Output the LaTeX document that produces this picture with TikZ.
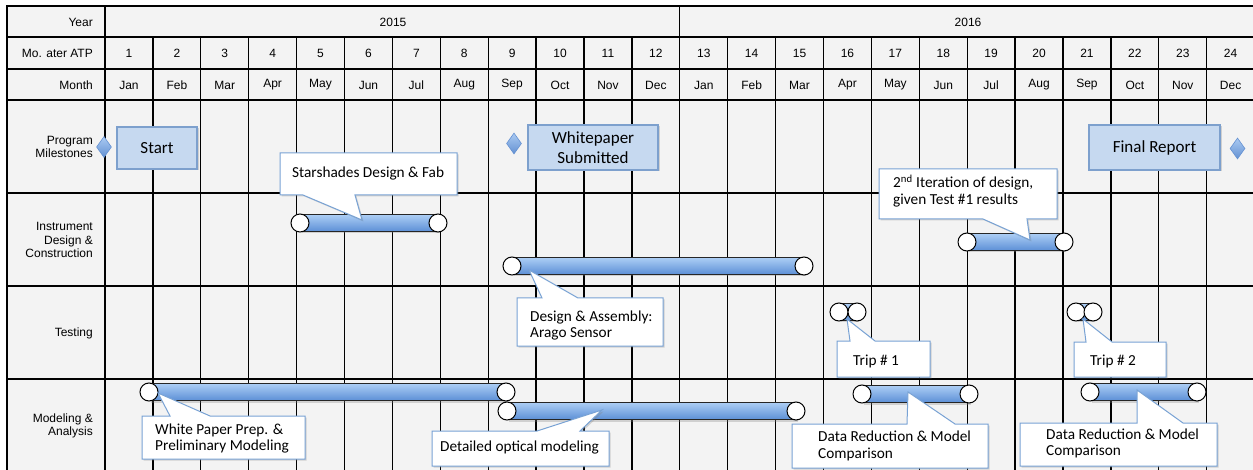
\documentclass[tikz,border=0pt]{standalone}
\usepackage{fontspec}
\setmainfont{Liberation Sans}
\newfontfamily\callfont{Carlito}
\usetikzlibrary{shadows,shapes.geometric}
\definecolor{cellbg}{RGB}{243,243,243}
\definecolor{msfill}{RGB}{198,217,240}
\definecolor{msedge}{RGB}{125,160,205}
\definecolor{coedge}{RGB}{120,162,212}
\definecolor{bartop}{RGB}{172,206,245}
\definecolor{barbot}{RGB}{92,143,214}
\definecolor{diatop}{RGB}{170,202,242}
\definecolor{diabot}{RGB}{100,145,210}

\newcommand{\ganttbar}[4]{%
  \coordinate (#1s) at (#2,#4);
  \coordinate (#1e) at (#3,#4);
  \path[barbody] ([yshift=8.5pt]#1s) rectangle ([yshift=-8.5pt]#1e);
  \node[endpt] (#1L) at (#1s) {};
  \node[endpt] (#1R) at (#1e) {};}
% callout with pointer on top edge: x1,y1(top),x2,y2(bottom),bx1,bx2,tipx,tipy
\newcommand{\coup}[8]{\path[cshape] (#1,#2) -- (#5,#2) -- (#7,#8) -- (#6,#2) -- (#3,#2) -- (#3,#4) -- (#1,#4) -- cycle;}
% callout with pointer on bottom edge
\newcommand{\codown}[8]{\path[cshape] (#1,#2) -- (#3,#2) -- (#3,#4) -- (#6,#4) -- (#7,#8) -- (#5,#4) -- (#1,#4) -- cycle;}

\begin{document}
\begin{tikzpicture}[x=1pt,y=-1pt,
  gridline/.style={line width=1.3pt, black},
  outline/.style={line width=1.7pt, black},
  hdr/.style={font=\fontsize{12}{14}\selectfont, inner sep=0pt},
  rowlab/.style={font=\fontsize{12}{13.5}\selectfont, inner sep=0pt, align=right, anchor=east},
  ctext/.style={font=\callfont\fontsize{15.3}{16.5}\selectfont, inner sep=0pt, align=left, anchor=west},
  cshape/.style={draw=coedge, line width=1pt, fill=white, drop shadow={shadow xshift=1.5pt, shadow yshift=-1.5pt, opacity=0.3}},
  msbox/.style={draw=msedge, line width=1.2pt, fill=msfill, font=\callfont\fontsize{17}{20.5}\selectfont, align=center, inner sep=0pt, drop shadow={shadow xshift=1.5pt, shadow yshift=-1.5pt, opacity=0.3}},
  msdia/.style={diamond, draw=diabot, line width=0.6pt, top color=diatop, bottom color=diabot, minimum width=15pt, minimum height=21pt, inner sep=0pt},
  endpt/.style={circle, draw=black, line width=1pt, fill=white, minimum size=18pt, inner sep=0pt},
  barbody/.style={draw=black!85, line width=0.9pt, top color=bartop, bottom color=barbot, drop shadow={shadow xshift=1.5pt, shadow yshift=-2pt, opacity=0.3}}
]
\useasboundingbox (0,0) rectangle (1253,470);
% background and grid
\fill[cellbg] (7,6) rectangle (1253,472);
\foreach \y in {37,69,100,193,286,379} \draw[gridline] (7,\y) -- (1253,\y);
\foreach \k in {1,...,11,13,14,...,23} \draw[gridline] ({105+47.9*\k},37) -- ({105+47.9*\k},472);
\draw[gridline] (105,6) -- (105,472);
\draw[gridline] ({105+47.9*12},6) -- ({105+47.9*12},472);
\draw[outline] (1253,6) -- (7,6) -- (7,472);

% header
\node[hdr, anchor=east] (hyear) at (93,22) {Year};
\node[hdr, anchor=east] (hmo) at (93,53) {Mo. ater ATP};
\node[hdr, anchor=east] (hmonth) at (93,85) {Month};
\node[hdr] (y2015) at (393,22) {2015};
\node[hdr] (y2016) at (968,22) {2016};
\foreach \m [count=\i] in {Jan,Feb,Mar,Apr,May,Jun,Jul,Aug,Sep,Oct,Nov,Dec,Jan,Feb,Mar,Apr,May,Jun,Jul,Aug,Sep,Oct,Nov,Dec}{
  \node[hdr] (num\i) at ({105+47.9*(\i-0.5)},53) {\i};
  \node[hdr] (mon\i) at ({105+47.9*(\i-0.5)},85) {\m};
}
% row labels
\node[rowlab] (rl1) at (93,147) {Program\\Milestones};
\node[rowlab] (rl2) at (93,240) {Instrument\\Design \&\\Construction};
\node[rowlab] (rl3) at (93,333) {Testing};
\node[rowlab] (rl4) at (93,426) {Modeling \&\\Analysis};

% bars
\ganttbar{ba}{300}{438}{223}
\ganttbar{bb}{512}{804}{266}
\ganttbar{bc}{967}{1064}{242}
\ganttbar{bd}{839}{857}{312}
\ganttbar{be}{1076}{1093}{312}
\ganttbar{bf}{149}{506}{392}
\ganttbar{bg}{507}{796}{411}
\ganttbar{bh}{862}{969}{394}
\ganttbar{bi}{1090}{1197}{392}

% callouts
\codown{280}{153}{457}{195}{303}{355}{362}{220}
\node[ctext] (t1) at (292,174) {Starshades Design \& Fab};
\codown{879}{169}{1057}{219}{983}{1027}{1030}{240}
\node[ctext] (t2) at (893,191) {2\textsuperscript{nd} Iteration of design,\\given Test \#1 results};
\coup{517}{298}{663}{346}{542}{578}{529}{270}
\node[ctext] (t3) at (530,325.5) {Design \& Assembly:\\Arago Sensor};
\coup{837}{341}{930}{377}{850}{875}{847}{319}
\node[ctext] (t4) at (853,361) {Trip \# 1};
\coup{1074}{342}{1166}{377}{1086}{1112}{1083}{319}
\node[ctext] (t5) at (1090,361) {Trip \# 2};
\coup{142}{416}{305}{459}{170}{210}{158}{393}
\node[ctext] (t6) at (155,438.5) {White Paper Prep. \&\\Preliminary Modeling};
\coup{432}{431}{609}{466}{537}{580}{602}{410}
\node[ctext] (t7) at (440,448) {Detailed optical modeling};
\coup{792}{424}{988}{468}{907}{955}{908}{392}
\node[ctext] (t8) at (818,446) {Data Reduction \& Model\\Comparison};
\coup{1020}{423}{1217}{466}{1137}{1183}{1137}{390}
\node[ctext] (t9) at (1046,443.5) {Data Reduction \& Model\\Comparison};

% milestones
\node[msdia] (d1) at (104,147) {};
\node[msbox, minimum width=80pt, minimum height=42pt] (m1) at (157,148) {Start};
\node[msdia] (d2) at (514,143.5) {};
\node[msbox, minimum width=130pt, minimum height=45pt] (m2) at (593,147.5) {Whitepaper\\Submitted};
\node[msbox, minimum width=131pt, minimum height=45pt] (m3) at (1154.5,147.5) {Final Report};
\node[msdia] (d3) at (1237.5,148.5) {};
\end{tikzpicture}
\end{document}
